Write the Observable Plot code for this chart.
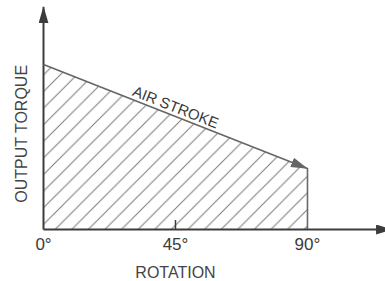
<!DOCTYPE html>
<html><head><meta charset="utf-8">
<script src="https://cdn.jsdelivr.net/npm/d3@7"></script>
<script src="https://cdn.jsdelivr.net/npm/@observablehq/plot@0.6"></script>
<style>html,body{margin:0;padding:0;background:#fff;overflow:hidden} svg{overflow:hidden;display:block}</style>
</head><body><div id="chart"></div>
<script>
// ---- data ----
const rotationDeg = [0, 90];
const torque = [100, 37];
const tickValues = [0, 45, 90];
const tickLabels = ["0°", "45°", "90°"];
const xAxisEnd = 119;
const yAxisEnd = 135;
const strokeLabel = "AIR STROKE";
const xLabel = "ROTATION";
const yLabel = "OUTPUT TORQUE";

const curve = rotationDeg.map((x, i) => ({x, y: torque[i]}));
const xAxisLine = [{x: 0, y: 0}, {x: xAxisEnd, y: 0}];
const yAxisLine = [{x: 0, y: 0}, {x: 0, y: yAxisEnd}];
const ticks = tickValues.map((v, i) => ({v, label: tickLabels[i]}));

const font = "'Liberation Sans', Arial, Helvetica, sans-serif";
const chart = Plot.plot({
  width: 385, height: 281,
  marginLeft: 43, marginRight: 0, marginTop: 8, marginBottom: 52,
  x: {domain: [0, 116.6], axis: null},
  y: {domain: [0, 134], axis: null},
  style: {fontFamily: font, background: "white"},
  marks: [
    Plot.areaY(curve, {x: "x", y: "y", fill: "url(#hatch)"}),
    Plot.ruleX([rotationDeg[1]], {x: d => d, y1: 0, y2: torque[1], stroke: "#6a6a6a", strokeWidth: 1.6}),
    Plot.ruleX([tickValues[1]], {x: d => d, y1: 0, y2: 0, insetTop: -9, stroke: "#3c3c3c", strokeWidth: 1.5}),
    Plot.line(xAxisLine, {x: "x", y: "y", stroke: "#3c3c3c", strokeWidth: 2, strokeLinecap: "butt"}),
    Plot.line(yAxisLine, {x: "x", y: "y", stroke: "#3c3c3c", strokeWidth: 2, strokeLinecap: "butt"}),
    Plot.line(curve, {x: "x", y: "y", stroke: "#666", strokeWidth: 1.6, strokeLinecap: "butt"}),
    Plot.text(ticks, {x: "v", text: "label", frameAnchor: "bottom", textAnchor: "middle", lineAnchor: "middle", dy: 15.5, fontSize: 17, fill: "#3a3a3a"}),
    Plot.text([xLabel], {x: tickValues[1], text: d => d, frameAnchor: "bottom", textAnchor: "middle", lineAnchor: "middle", dy: 43, fontSize: 16, fill: "#444"}),
    Plot.text([yLabel], {y: 58, text: d => d, frameAnchor: "left", textAnchor: "middle", lineAnchor: "middle", dx: -22, rotate: -90, fontSize: 16, fill: "#444"}),
    Plot.text([strokeLabel], {x: tickValues[1], y: (torque[0] + torque[1]) / 2, text: d => d, textAnchor: "middle", lineAnchor: "middle", rotate: 21.5, dy: -9, fontSize: 15, fill: "#3a3a3a"})
  ]
});
document.getElementById("chart").appendChild(chart);

const svg = d3.select(chart);
const defs = svg.insert("defs", ":first-child");
const p = 16.6;
defs.append("pattern")
  .attr("id", "hatch").attr("patternUnits", "userSpaceOnUse")
  .attr("width", p).attr("height", p)
  .attr("patternTransform", "translate(2.3,0)")
  .append("path")
  .attr("d", `M-1,1 L1,-1 M0,${p} L${p},0 M${p-1},${p+1} L${p+1},${p-1}`)
  .attr("stroke", "#7a7a7a").attr("stroke-width", 1).attr("fill", "none");
function marker(id, color) {
  defs.append("marker")
    .attr("id", id).attr("markerUnits", "userSpaceOnUse")
    .attr("viewBox", "0 0 17 10").attr("markerWidth", 17).attr("markerHeight", 10)
    .attr("refX", 16.5).attr("refY", 5).attr("orient", "auto")
    .append("path").attr("d", "M0,0 L17,5 L0,10 Z").attr("fill", color);
}
marker("arrowDark", "#3c3c3c");
marker("arrowGrey", "#666");
const paths = svg.selectAll('g[aria-label="line"] path').nodes();
if (paths[0]) paths[0].setAttribute("marker-end", "url(#arrowDark)");
if (paths[1]) paths[1].setAttribute("marker-end", "url(#arrowDark)");
if (paths[2]) paths[2].setAttribute("marker-end", "url(#arrowGrey)");
</script>
</body></html>
